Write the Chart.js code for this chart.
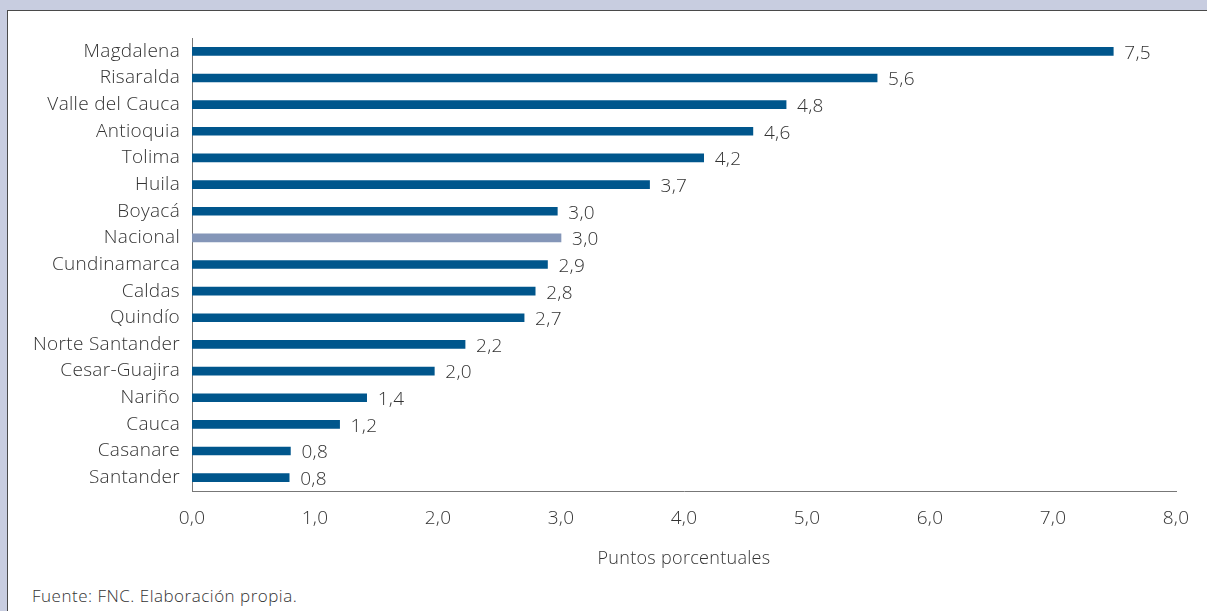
<!DOCTYPE html>
<html>
<head>
<meta charset="utf-8">
<script src="https://cdn.jsdelivr.net/npm/chart.js@4.4.0/dist/chart.umd.min.js"></script>
<style>
  body { margin: 0; background: #c8cde0; width: 1207px; height: 611px; overflow: hidden; position: relative; }
  #panel { position: absolute; left: 7px; top: 10px; width: 1210px; height: 620px; background: #fff; border-top: 1px solid #4a4a4a; border-left: 1px solid #4a4a4a; }
  #chart { position: absolute; left: 0; top: 0; }
  #nota { position: absolute; left: 32px; top: 584px; font-family: "Open Sans", sans-serif; font-weight: 300; font-size: 17px; letter-spacing: 0.5px; color: #333; }
</style>
</head>
<body>
<div id="panel"></div>
<canvas id="chart" width="1207" height="570"></canvas>
<div id="nota">Fuente: FNC. Elaboración propia.</div>
<script>
//! data ---------------
let departamentos = ["Magdalena", "Risaralda", "Valle del Cauca", "Antioquia", "Tolima", "Huila", "Boyacá", "Nacional",
  "Cundinamarca", "Caldas", "Quindío", "Norte Santander", "Cesar-Guajira", "Nariño", "Cauca", "Casanare", "Santander"];
let puntos = [7.49, 5.57, 4.83, 4.56, 4.16, 3.72, 2.97, 3.0, 2.89, 2.79, 2.70, 2.22, 1.97, 1.42, 1.20, 0.80, 0.79];
let ticksX = [0, 1, 2, 3, 4, 5, 6, 7, 8];

let azul = "#00568c";
let gris = "#8496b8";
let colores = departamentos.map((d) => d === "Nacional" ? gris : azul);

let fuente = "'Open Sans', sans-serif";
let fmt = (v) => v.toFixed(1).replace(".", ",");

//! slightly wider text, closer to the original typeface
let espaciado = {
  id: "espaciado",
  beforeDraw(chart) { chart.ctx.letterSpacing = "0.3px"; }
};

//! value labels at bar ends
let etiquetas = {
  id: "etiquetas",
  afterDatasetsDraw(chart) {
    let ctx = chart.ctx;
    let meta = chart.getDatasetMeta(0);
    ctx.save();
    ctx.font = "300 19px " + fuente;
    ctx.fillStyle = "#333";
    ctx.textAlign = "left";
    ctx.textBaseline = "middle";
    meta.data.forEach((bar, i) => {
      ctx.fillText(fmt(puntos[i]), bar.x + 11, bar.y + 2);
    });
    ctx.restore();
  }
};

let cht = document.getElementById("chart").getContext("2d");
let MyBarChart = new Chart(cht, {
  type: "bar",
  data: {
    labels: departamentos,
    datasets: [{
      data: puntos,
      backgroundColor: colores,
      barThickness: 8
    }]
  },
  options: {
    indexAxis: "y",
    responsive: false,
    animation: false,
    layout: { padding: { top: 38, right: 31, bottom: 0, left: 0 } },
    plugins: { legend: { display: false }, tooltip: { enabled: false } },
    scales: {
      x: {
        min: 0,
        max: 8,
        afterBuildTicks: (scale) => { scale.ticks = ticksX.map((v) => ({ value: v })); },
        afterFit: (scale) => { scale.height = 79; },
        grid: { display: false, drawTicks: false },
        border: { display: true, color: "#777", width: 1 },
        ticks: {
          padding: 16,
          color: "#333",
          font: { family: fuente, size: 19, weight: 300 },
          callback: (v) => fmt(v)
        },
        title: {
          display: true,
          text: "Puntos porcentuales",
          color: "#333",
          font: { family: fuente, size: 18, weight: 300 },
          padding: { top: 0, bottom: 0 }
        }
      },
      y: {
        afterFit: (scale) => { scale.width = 192; },
        grid: { display: false, drawTicks: false },
        border: { display: true, color: "#777", width: 1 },
        ticks: {
          padding: 12,
          color: "#333",
          font: { family: fuente, size: 19, weight: 300 }
        }
      }
    }
  },
  plugins: [espaciado, etiquetas]
});
</script>
</body>
</html>
